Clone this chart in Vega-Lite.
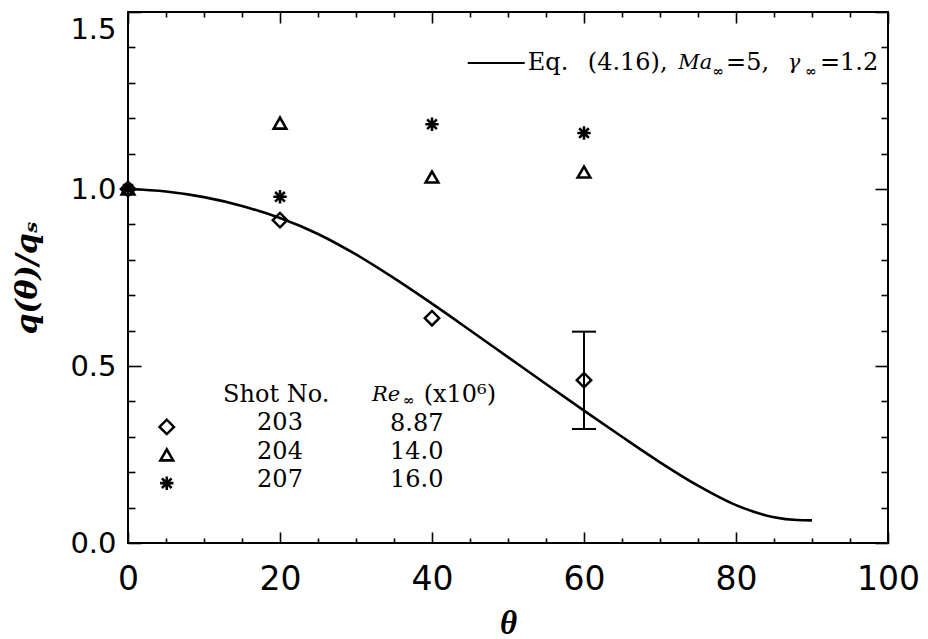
{
  "$schema": "https://vega.github.io/schema/vega-lite/v6.json",
  "width": 760,
  "height": 531,
  "autosize": {"type": "none"},
  "padding": {"left": 128, "top": 12, "right": 40, "bottom": 96},
  "background": "white",
  "config": {
    "view": {"stroke": "black", "strokeWidth": 2},
    "axis": {"domain": false, "grid": false, "tickColor": "black", "tickWidth": 1.6, "labelColor": "black", "titleColor": "black"}
  },
  "datasets": {
    "curve": [
      {"theta": 0, "q": 1.0}, {"theta": 5, "q": 0.993}, {"theta": 10, "q": 0.977}, {"theta": 15, "q": 0.952},
      {"theta": 20, "q": 0.918}, {"theta": 25, "q": 0.873}, {"theta": 30, "q": 0.815}, {"theta": 35, "q": 0.748},
      {"theta": 40, "q": 0.676}, {"theta": 45, "q": 0.601}, {"theta": 50, "q": 0.525}, {"theta": 55, "q": 0.449},
      {"theta": 60, "q": 0.374}, {"theta": 65, "q": 0.300}, {"theta": 70, "q": 0.228}, {"theta": 75, "q": 0.162},
      {"theta": 80, "q": 0.107}, {"theta": 85, "q": 0.073}, {"theta": 88, "q": 0.065}, {"theta": 90, "q": 0.064}
    ],
    "diamond": [
      {"theta": 0, "q": 1.0}, {"theta": 20, "q": 0.912}, {"theta": 40, "q": 0.635}, {"theta": 60, "q": 0.46}, {"theta": 5.1, "q": 0.328}
    ],
    "triangle": [
      {"theta": 0, "q": 1.0}, {"theta": 20, "q": 1.186}, {"theta": 40, "q": 1.034}, {"theta": 60, "q": 1.048}, {"theta": 5.1, "q": 0.249}
    ],
    "asterisk": [
      {"theta": 0, "q": 1.0}, {"theta": 20, "q": 0.978}, {"theta": 40, "q": 1.183}, {"theta": 60, "q": 1.158}, {"theta": 5.1, "q": 0.169}
    ],
    "err": [{"theta": 60, "lo": 0.322, "hi": 0.597}],
    "legline": [{"x1": 44.7, "x2": 52.2, "q": 1.356}],
    "normaltext": [
      {"theta": 52.6, "q": 1.356, "t": "Eq."},
      {"theta": 60.5, "q": 1.356, "t": "(4.16),"},
      {"theta": 78.7, "q": 1.356, "t": "=5,"},
      {"theta": 91.05, "q": 1.356, "t": "=1.2"},
      {"theta": 38.9, "q": 0.418, "t": "(x10⁶)"}
    ],
    "italictext": [
      {"theta": 72.4, "q": 1.356, "t": "Ma"},
      {"theta": 86.8, "q": 1.356, "t": "γ"},
      {"theta": 32.1, "q": 0.418, "t": "Re"}
    ],
    "subtext": [
      {"theta": 76.9, "q": 1.330, "t": "∞"},
      {"theta": 89.1, "q": 1.330, "t": "∞"},
      {"theta": 36.2, "q": 0.402, "t": "∞"}
    ],
    "centertext": [
      {"theta": 19.5, "q": 0.418, "t": "Shot No."},
      {"theta": 20, "q": 0.339, "t": "203"},
      {"theta": 20, "q": 0.257, "t": "204"},
      {"theta": 20, "q": 0.178, "t": "207"},
      {"theta": 38, "q": 0.336, "t": "8.87"},
      {"theta": 38, "q": 0.257, "t": "14.0"},
      {"theta": 38, "q": 0.178, "t": "16.0"}
    ]
  },
  "resolve": {"axis": {"x": "independent", "y": "independent"}},
  "layer": [
    {
      "data": {"name": "curve"},
      "mark": {"type": "line", "color": "black", "strokeWidth": 2.6, "interpolate": "monotone"},
      "encoding": {
        "x": {"field": "theta", "type": "quantitative", "scale": {"domain": [0, 100], "nice": false, "zero": false},
          "axis": {"orient": "bottom", "values": [0, 20, 40, 60, 80, 100], "tickSize": -11, "labelPadding": 31,
            "labelFont": "DejaVu Sans", "labelFontSize": 33, "labelFlush": false, "labelOverlap": false,
            "title": "θ", "titleFont": "Liberation Serif", "titleFontStyle": "italic", "titleFontWeight": "bold", "titleFontSize": 33, "titlePadding": 11}},
        "y": {"field": "q", "type": "quantitative", "scale": {"domain": [0, 1.5], "nice": false, "zero": false},
          "axis": {"orient": "left", "values": [0, 0.5, 1, 1.5], "format": ".1f", "tickSize": -13, "labelPadding": 25,
            "labelFont": "DejaVu Sans", "labelFontSize": 29, "labelFlush": false, "labelOverlap": false,
            "labelBaseline": {"condition": {"test": "datum.value == 1.5", "value": "top"}, "value": "middle"},
            "labelOffset": {"condition": {"test": "datum.value == 1.5", "value": 3}, "value": 0},
            "title": "q(θ)/qₛ", "titleFont": "DejaVu Serif", "titleFontStyle": "italic", "titleFontWeight": "bold", "titleFontSize": 30, "titlePadding": 27}}
      }
    },
    {
      "data": {"name": "diamond"},
      "mark": {"type": "point", "shape": "diamond", "filled": false, "color": "black", "strokeWidth": 2.4, "size": 210, "opacity": 1},
      "encoding": {
        "x": {"field": "theta", "type": "quantitative",
          "axis": {"orient": "bottom", "values": [5, 10, 15, 25, 30, 35, 45, 50, 55, 65, 70, 75, 85, 90, 95], "tickSize": -5, "labels": false, "title": null}},
        "y": {"field": "q", "type": "quantitative",
          "axis": {"orient": "left", "values": [0.1, 0.2, 0.3, 0.4, 0.6, 0.7, 0.8, 0.9, 1.1, 1.2, 1.3, 1.4], "tickSize": -7, "labels": false, "title": null}}
      }
    },
    {
      "data": {"name": "triangle"},
      "mark": {"type": "point", "shape": "triangle-up", "filled": false, "color": "black", "strokeWidth": 2.6, "size": 160, "opacity": 1},
      "encoding": {
        "x": {"field": "theta", "type": "quantitative",
          "axis": {"orient": "top", "values": [0, 20, 40, 60, 80, 100], "tickSize": -11, "labels": false, "title": null}},
        "y": {"field": "q", "type": "quantitative",
          "axis": {"orient": "right", "values": [0, 0.5, 1, 1.5], "tickSize": -13, "labels": false, "title": null}}
      }
    },
    {
      "data": {"name": "asterisk"},
      "mark": {"type": "point", "shape": "M-1,0L1,0M0,-1L0,1M-0.72,-0.72L0.72,0.72M-0.72,0.72L0.72,-0.72", "filled": false, "color": "black", "strokeWidth": 2.6, "size": 180, "opacity": 1},
      "encoding": {
        "x": {"field": "theta", "type": "quantitative",
          "axis": {"orient": "top", "values": [5, 10, 15, 25, 30, 35, 45, 50, 55, 65, 70, 75, 85, 90, 95], "tickSize": -5, "labels": false, "title": null}},
        "y": {"field": "q", "type": "quantitative",
          "axis": {"orient": "right", "values": [0.1, 0.2, 0.3, 0.4, 0.6, 0.7, 0.8, 0.9, 1.1, 1.2, 1.3, 1.4], "tickSize": -7, "labels": false, "title": null}}
      }
    },
    {
      "data": {"name": "err"},
      "mark": {"type": "rule", "color": "black", "strokeWidth": 2},
      "encoding": {
        "x": {"field": "theta", "type": "quantitative", "axis": null},
        "y": {"field": "lo", "type": "quantitative", "axis": null},
        "y2": {"field": "hi"}
      }
    },
    {
      "data": {"name": "err"},
      "mark": {"type": "tick", "orient": "horizontal", "color": "black", "thickness": 2, "size": 24, "opacity": 1},
      "encoding": {
        "x": {"field": "theta", "type": "quantitative", "axis": null},
        "y": {"field": "lo", "type": "quantitative", "axis": null}
      }
    },
    {
      "data": {"name": "err"},
      "mark": {"type": "tick", "orient": "horizontal", "color": "black", "thickness": 2, "size": 24, "opacity": 1},
      "encoding": {
        "x": {"field": "theta", "type": "quantitative", "axis": null},
        "y": {"field": "hi", "type": "quantitative", "axis": null}
      }
    },
    {
      "data": {"name": "legline"},
      "mark": {"type": "rule", "color": "black", "strokeWidth": 2},
      "encoding": {
        "x": {"field": "x1", "type": "quantitative", "axis": null},
        "x2": {"field": "x2"},
        "y": {"field": "q", "type": "quantitative", "axis": null}
      }
    },
    {
      "data": {"name": "normaltext"},
      "mark": {"type": "text", "align": "left", "baseline": "middle", "font": "DejaVu Serif", "fontSize": 24, "color": "black"},
      "encoding": {
        "x": {"field": "theta", "type": "quantitative", "axis": null},
        "y": {"field": "q", "type": "quantitative", "axis": null},
        "text": {"field": "t"}
      }
    },
    {
      "data": {"name": "italictext"},
      "mark": {"type": "text", "align": "left", "baseline": "middle", "font": "DejaVu Serif", "fontStyle": "italic", "fontSize": 21, "color": "black"},
      "encoding": {
        "x": {"field": "theta", "type": "quantitative", "axis": null},
        "y": {"field": "q", "type": "quantitative", "axis": null},
        "text": {"field": "t"}
      }
    },
    {
      "data": {"name": "subtext"},
      "mark": {"type": "text", "align": "left", "baseline": "middle", "font": "DejaVu Serif", "fontWeight": "bold", "fontSize": 14, "color": "black"},
      "encoding": {
        "x": {"field": "theta", "type": "quantitative", "axis": null},
        "y": {"field": "q", "type": "quantitative", "axis": null},
        "text": {"field": "t"}
      }
    },
    {
      "data": {"name": "centertext"},
      "mark": {"type": "text", "align": "center", "baseline": "middle", "font": "DejaVu Serif", "fontSize": 24, "color": "black"},
      "encoding": {
        "x": {"field": "theta", "type": "quantitative", "axis": null},
        "y": {"field": "q", "type": "quantitative", "axis": null},
        "text": {"field": "t"}
      }
    }
  ]
}
